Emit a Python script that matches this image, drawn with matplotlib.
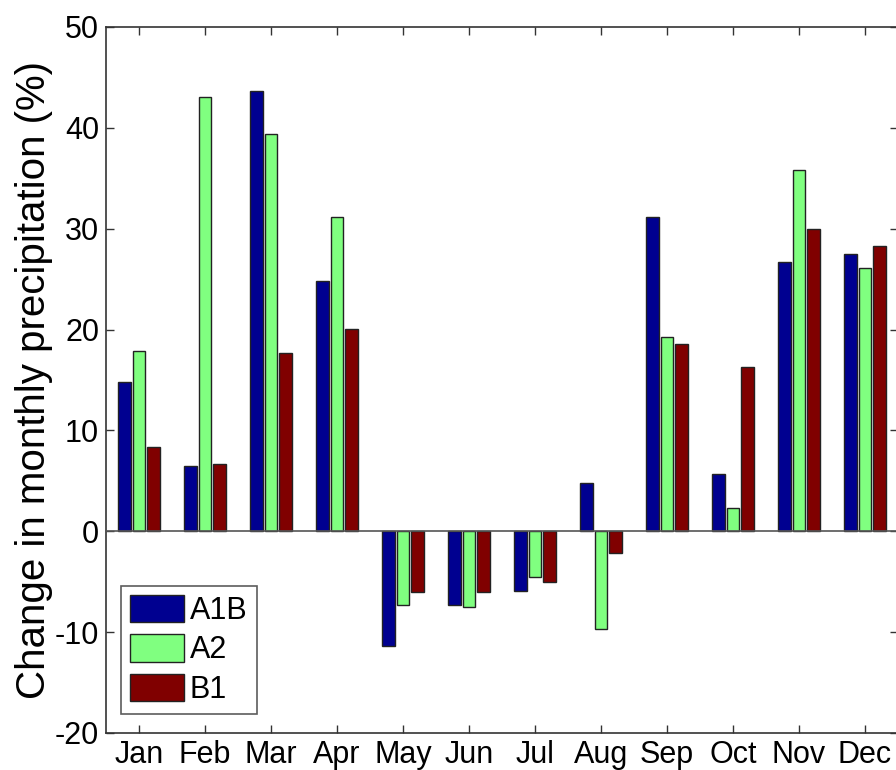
import numpy as np
import matplotlib
matplotlib.use('Agg')
import matplotlib.pyplot as plt

# valores (% de mudança na precipitação mensal)
months = ['Jan', 'Feb', 'Mar', 'Apr', 'May', 'Jun', 'Jul', 'Aug', 'Sep', 'Oct', 'Nov', 'Dec']
a1b = [14.8, 6.5, 43.7, 24.8, -11.4, -7.3, -5.9, 4.8, 31.2, 5.7, 26.7, 27.5]
a2 = [17.9, 43.1, 39.4, 31.2, -7.3, -7.5, -4.5, -9.7, 19.3, 2.3, 35.8, 26.1]
b1 = [8.4, 6.7, 17.7, 20.1, -6.0, -6.0, -5.0, -2.2, 18.6, 16.3, 30.0, 28.3]
series = ['A1B', 'A2', 'B1']
colors = ['#000090', '#80ff80', '#800000']

plt.rcParams['font.family'] = ['Liberation Sans', 'DejaVu Sans']
plt.rcParams['axes.unicode_minus'] = False

fig = plt.figure(figsize=(8.96, 7.7), dpi=100)
ax = fig.add_axes([106 / 896, 1 - 733 / 770, 792 / 896, 706 / 770])

x = np.arange(1, len(months) + 1)
step = 0.222
width = 0.19
for i, (name, vals, c) in enumerate(zip(series, [a1b, a2, b1], colors)):
    ax.bar(x + (i - 1) * step, vals, width, color=c, edgecolor='#222222',
           linewidth=1.0, label=name, zorder=2)

ax.axhline(0, color='#555555', linewidth=1.2, zorder=3)
ax.set_xlim(0.5, 12.5)
ax.set_ylim(-20, 50)
ax.set_xticks(x)
ax.set_xticklabels(months)
ax.set_yticks(np.arange(-20, 51, 10))
ax.tick_params(direction='in', length=6, width=1, top=True, right=True,
               labelsize=22, colors='#333333', labelcolor='black', pad=5)
for s in ax.spines.values():
    s.set_color('#333333')
    s.set_linewidth(1.2)
ax.set_ylabel('Change in monthly precipitation (%)', fontsize=29, labelpad=1)

leg = ax.legend(loc='lower left', bbox_to_anchor=(0.019, 0.027), fontsize=22,
                frameon=True, fancybox=False, handlelength=1.75, handleheight=1.0,
                handletextpad=0.2, labelspacing=0.27, borderpad=0.3,
                borderaxespad=0.0)
leg.get_frame().set_edgecolor('#333333')
leg.get_frame().set_linewidth(1.2)

fig.savefig('out.png', dpi=100)
